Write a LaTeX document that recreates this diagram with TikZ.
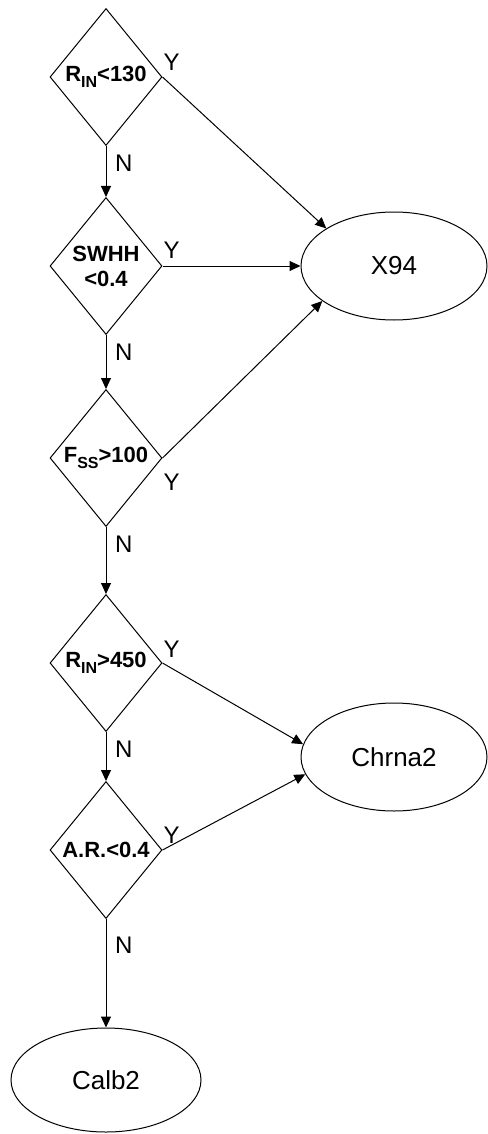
\documentclass[tikz,border=0pt]{standalone}
\usepackage{fontspec}
\setmainfont{Liberation Sans}
\usetikzlibrary{shapes.geometric,arrows.meta}

\newcommand{\subtxt}[1]{\raisebox{-6pt}{\fontsize{16}{16}\selectfont #1}}

\tikzset{
  decision/.style={diamond, draw, line width=1pt, inner sep=0pt,
    minimum width=112pt, minimum height=137pt, align=center,
    font=\fontsize{22}{25}\selectfont\bfseries},
  leaf/.style={ellipse, draw, line width=1pt, inner sep=0pt,
    minimum width=186pt, minimum height=108pt,
    font=\fontsize{26}{28}\selectfont},
  flow/.style={line width=1pt, -{Triangle[length=11pt,width=10pt]}},
  yn/.style={inner sep=0pt, font=\fontsize{24}{24}\selectfont}
}

\begin{document}
\begin{tikzpicture}[x=1pt,y=1pt]
  \useasboundingbox (0,0) rectangle (487,-1134);

  % decision diamonds
  \node[decision] (d1) at (106,-77)  {R\subtxt{IN}<130};
  \node[decision] (d2) at (106,-266) {SWHH\\<0.4};
  \node[decision] (d3) at (106,-458) {F\subtxt{SS}>100};
  \node[decision] (d4) at (106,-663) {R\subtxt{IN}>450};
  \node[decision] (d5) at (106,-850) {A.R.<0.4};

  % outcomes
  \node[leaf] (x94)   at (394,-266)  {X94};
  \node[leaf] (chrna) at (394,-757)  {Chrna2};
  \node[leaf, minimum width=190pt, minimum height=104pt] (calb) at (106,-1080) {Calb2};

  % "no" branches
  \draw[flow] (d1.south) -- (d2.north);
  \draw[flow] (d2.south) -- (d3.north);
  \draw[flow] (d3.south) -- (d4.north);
  \draw[flow] (d4.south) -- (d5.north);
  \draw[flow] (d5.south) -- (calb.north);

  % "yes" branches
  \draw[flow] (d1.east) -- (x94.151);
  \draw[flow] (d2.east) -- (x94.west);
  \draw[flow] (d3.east) -- (x94.206);
  \draw[flow] (d4.east) -- (chrna.172);
  \draw[flow] (d5.east) -- (chrna.191);

  % branch labels
  \node[yn, anchor=south west] (y1) at ([shift={(1pt,6pt)}]d1.east) {Y};
  \node[yn, anchor=south west] (y2) at ([shift={(1pt,7pt)}]d2.east) {Y};
  \node[yn, anchor=north west] (y3) at ([shift={(1pt,-16pt)}]d3.east) {Y};
  \node[yn, anchor=south west] (y4) at ([shift={(1pt,5pt)}]d4.east) {Y};
  \node[yn, anchor=south west] (y5) at ([shift={(1pt,6pt)}]d5.east) {Y};

  \node[yn, anchor=north west] (n1) at ([shift={(9pt,-9pt)}]d1.south) {N};
  \node[yn, anchor=north west] (n2) at ([shift={(9pt,-9pt)}]d2.south) {N};
  \node[yn, anchor=north west] (n3) at ([shift={(9pt,-9pt)}]d3.south) {N};
  \node[yn, anchor=north west] (n4) at ([shift={(9pt,-9pt)}]d4.south) {N};
  \node[yn, anchor=north west] (n5) at ([shift={(9pt,-18pt)}]d5.south) {N};
\end{tikzpicture}
\end{document}
